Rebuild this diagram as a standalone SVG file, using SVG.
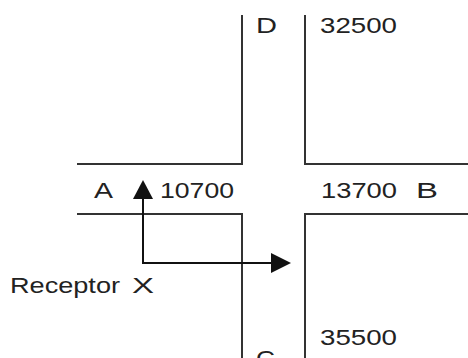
<svg xmlns="http://www.w3.org/2000/svg" width="468" height="358" viewBox="0 0 468 358">
<style>
.road{fill:none;stroke:#333;stroke-width:2}
.lbl{font-family:"Liberation Sans",Arial,sans-serif;font-size:22px;fill:#222}
.conn{fill:none;stroke:#111;stroke-width:2}
.head{fill:#111}
</style>
<rect width="468" height="358" fill="#fff"/>
<g id="roads">
<polyline class="road" points="77,164 242,164 242,15"/>
<polyline class="road" points="305,15 305,164 468,164"/>
<polyline class="road" points="77,214 242,214 242,358"/>
<polyline class="road" points="468,214 305,214 305,358"/>
</g>
<g id="connectors">
<polyline class="conn" points="143,198 143,263 272,263"/>
<polygon class="head" points="143,180 133,199 153,199"/>
<polygon class="head" points="291,263 271,253 271,273"/>
</g>
<g id="labels">
<text class="lbl" x="94" y="198" textLength="19" lengthAdjust="spacingAndGlyphs">A</text>
<text class="lbl" x="160" y="198" textLength="74" lengthAdjust="spacingAndGlyphs">10700</text>
<text class="lbl" x="321" y="198" textLength="76" lengthAdjust="spacingAndGlyphs">13700</text>
<text class="lbl" x="416" y="198" textLength="22" lengthAdjust="spacingAndGlyphs">B</text>
<text class="lbl" x="256" y="33" textLength="21" lengthAdjust="spacingAndGlyphs">D</text>
<text class="lbl" x="320" y="33" textLength="77" lengthAdjust="spacingAndGlyphs">32500</text>
<text class="lbl" x="320" y="345" textLength="77" lengthAdjust="spacingAndGlyphs">35500</text>
<text class="lbl" x="256" y="366" textLength="19" lengthAdjust="spacingAndGlyphs">C</text>
<text class="lbl" x="10" y="293" textLength="110" lengthAdjust="spacingAndGlyphs">Receptor</text>
<text class="lbl" x="132" y="293" textLength="22" lengthAdjust="spacingAndGlyphs">X</text>
</g>
</svg>
